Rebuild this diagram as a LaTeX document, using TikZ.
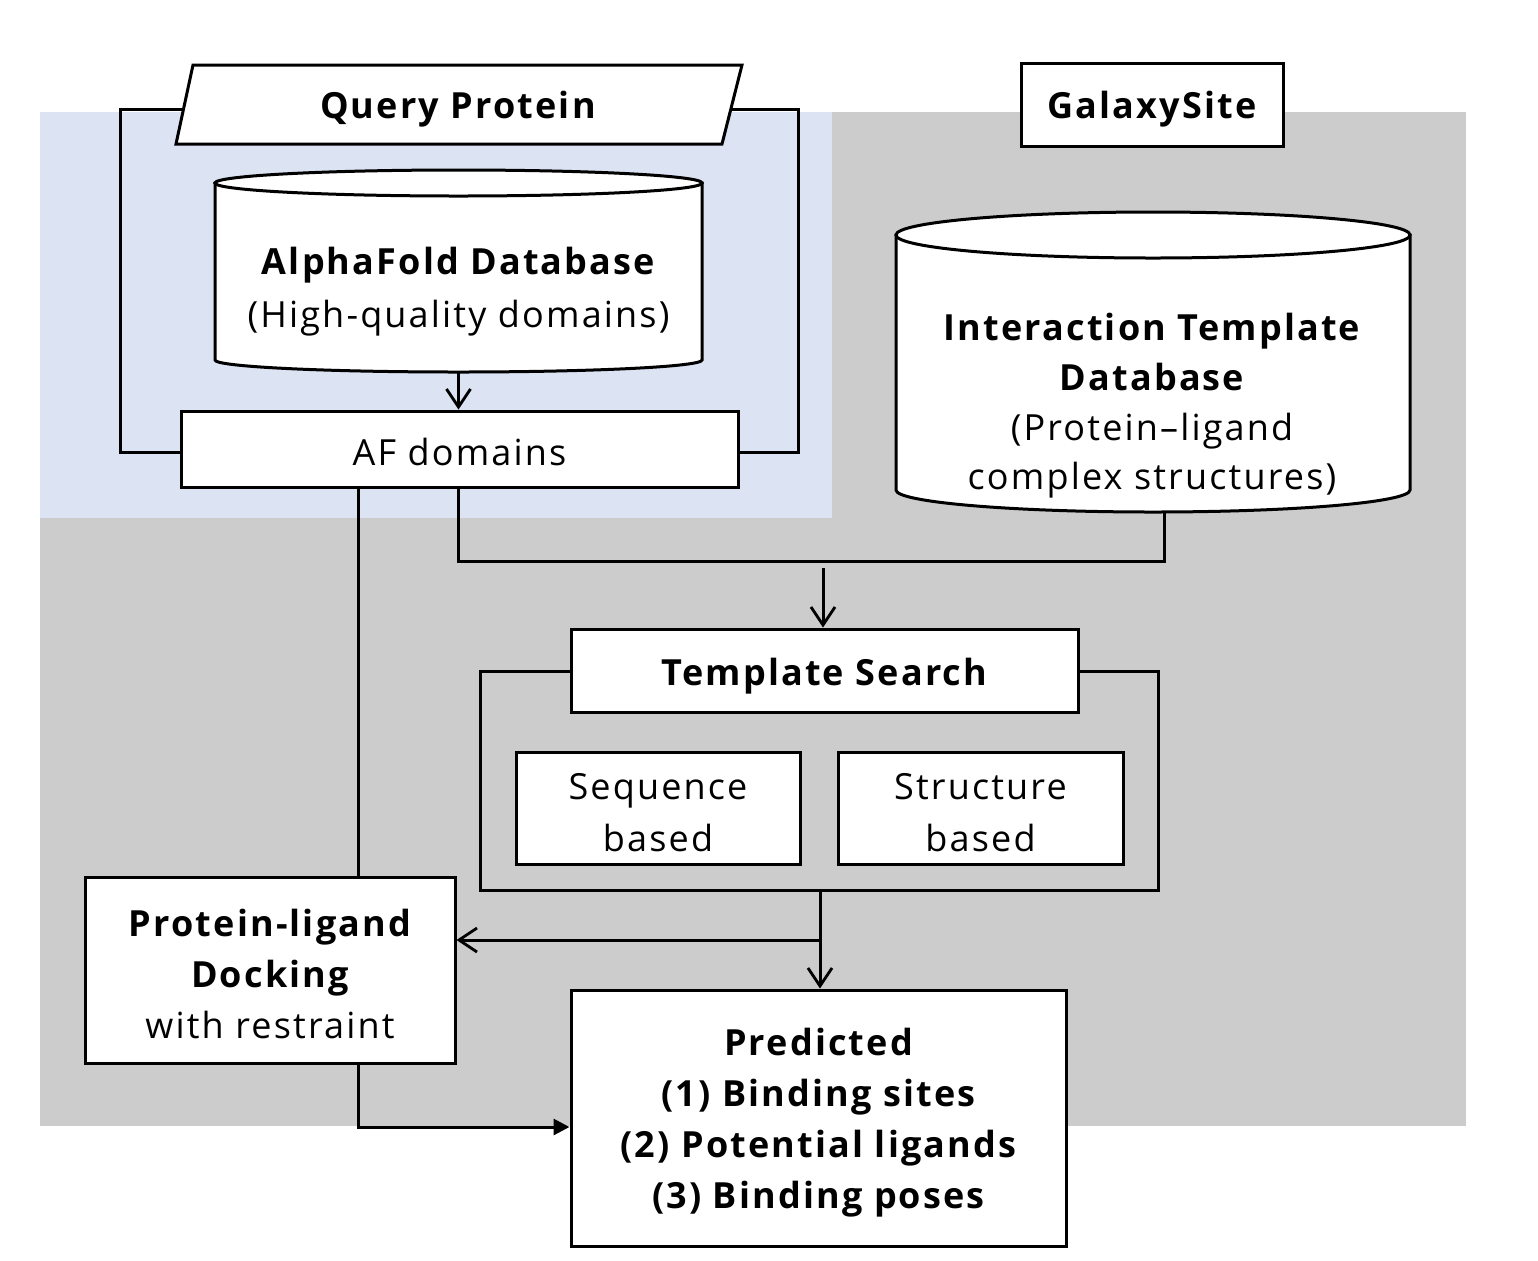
\documentclass[tikz,border=0pt]{standalone}
\usepackage{fontspec}
\setmainfont{Open Sans}[LetterSpace=6]
\usetikzlibrary{arrows.meta}
\definecolor{bggray}{HTML}{CCCCCC}
\definecolor{bgblue}{HTML}{DCE3F2}
\tikzset{
  boxline/.style={draw=black, line width=1.5pt, fill=white},
  box/.style={boxline, rectangle, inner sep=0pt},
  conn/.style={draw=black, line width=1.5pt},
  openarr/.style={conn, -{Straight Barb[length=9pt,width=12pt,line width=1.4pt]}},
  fillarr/.style={conn, -{Triangle[length=8pt,width=8pt]}},
  txt/.style={font=\fontsize{18}{25.5}\selectfont, align=center, inner sep=0pt},
  btxt/.style={txt, font=\fontsize{18}{25.5}\selectfont\bfseries},
}
\begin{document}
\begin{tikzpicture}[x=0.5pt,y=-0.5pt]
\useasboundingbox (0,0) rectangle (1538,1260);
% backgrounds
\fill[bggray] (40,112) rectangle (1466,1126);
\fill[bgblue] (40,112) rectangle (832,518);
% brackets
\draw[conn] (120,109) rectangle (798,452);
\draw[conn] (480,671) rectangle (1158,890);
% Query protein parallelogram
\draw[boxline] (176,144) -- (193,65) -- (742,65) -- (722,144) -- cycle;
\node[btxt] (qp) at (458,109) {Query Protein};
% GalaxySite
\node[box, minimum width=131pt, minimum height=41.5pt] (gs) at (1152,104.5) {};
\node[btxt] (gsL) at (1152,109.5) {GalaxySite};
% AlphaFold cylinder
\draw[boxline] (215,183) -- (215,360) arc[start angle=180,end angle=360,x radius=121.75pt,y radius=6pt] -- (702,183) -- cycle;
\draw[boxline] (458.5,183) ellipse[x radius=121.75pt, y radius=6.5pt];
\node[txt, font=\fontsize{18}{26.5}\selectfont] (afdb) at (458.5,292) {\bfseries AlphaFold Database\\(High-quality domains)};
\coordinate (afdbb) at (458.5,372);
% Interaction template cylinder
\draw[boxline] (896,235) -- (896,490) arc[start angle=180,end angle=360,x radius=128.5pt,y radius=11pt] -- (1410,235) -- cycle;
\draw[boxline] (1153,235) ellipse[x radius=128.5pt, y radius=11.5pt];
\node[txt, font=\fontsize{18}{24.8}\selectfont] (itdb) at (1152,406) {\bfseries Interaction Template\\\bfseries Database\\(Protein--ligand\\complex structures)};
\coordinate (itdbb) at (1164,511);
% AF domains
\node[box, minimum width=278.5pt, minimum height=38pt] (af) at (459.5,449) {};
\node[txt] (afL) at (459.5,452) {AF domains};
% Template search
\node[box, minimum width=253.5pt, minimum height=41.5pt] (ts) at (824.5,670.5) {};
\node[btxt] (tsL) at (824.5,676) {Template Search};
\node[box, minimum width=142pt, minimum height=56pt] (seq) at (658,808) {};
\node[txt, font=\fontsize{18}{26}\selectfont] (seqL) at (658,812.5) {Sequence\\based};
\node[box, minimum width=142.5pt, minimum height=56pt] (str) at (980.5,808) {};
\node[txt, font=\fontsize{18}{26}\selectfont] (strL) at (980.5,812.5) {Structure\\based};
% Docking
\node[box, minimum width=185pt, minimum height=93pt] (dock) at (270,970) {};
\node[txt, font=\fontsize{18}{25.5}\selectfont] (dockL) at (270,973.5) {\bfseries Protein-ligand\\\bfseries Docking\\with restraint};
% Predicted
\node[box, minimum width=247.5pt, minimum height=128pt] (pred) at (818.5,1118) {};
\node[btxt] (predL) at (818.5,1122.5) {Predicted\\(1) Binding sites\\(2) Potential ligands\\(3) Binding poses};
% connectors
\draw[openarr] (afdbb) -- (af.north -| afdbb);
\coordinate (afl) at (358,487);
\draw[conn] (afl) -- (dock.north -| afl);
\coordinate (afm) at (458,487);
\coordinate (join) at (458,561);
\draw[conn] (afm) -- (join) -- (itdbb |- join) -- (itdbb);
\coordinate (tsin) at (823,568);
\draw[openarr] (tsin) -- (ts.north -| tsin);
\coordinate (tsout) at (820,890);
\draw[openarr] (tsout) -- (pred.north -| tsout);
\coordinate (br) at (820,940);
\draw[openarr] (br) -- (dock.east |- br);
\coordinate (dbot) at (358,1063);
\coordinate (corner) at (358,1127);
\draw[fillarr] (dbot) -- (corner) -- (pred.west |- corner);
\end{tikzpicture}
\end{document}
